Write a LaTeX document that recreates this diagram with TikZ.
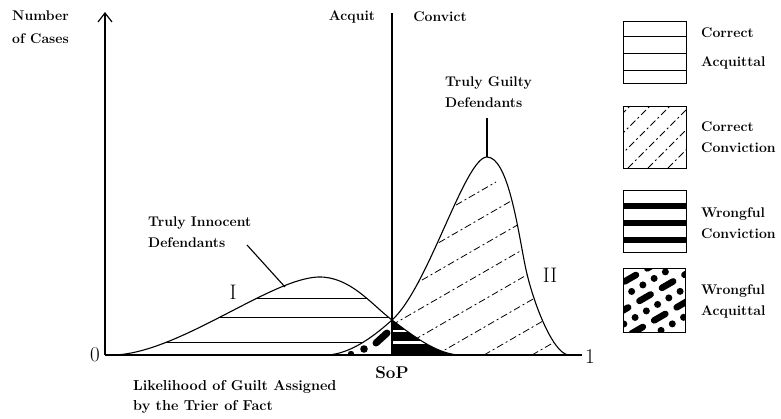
\documentclass[tikz,border=0pt]{standalone}
\usetikzlibrary{arrows.meta}
\def\innocentpath{(115,355) .. controls (180,352) and (270,279) .. (318,277) .. controls (350,276) and (372,305) .. (392,320) .. controls (412,335) and (435,353) .. (458,355)}
\def\guiltypath{(327,355) .. controls (352,354) and (377,333.5) .. (392,320) .. controls (428,288) and (465,157) .. (487,157) .. controls (508,157) and (518,230) .. (525,265) .. controls (532,300) and (552,352) .. (568,355)}
\tikzset{
  curve/.style={line width=1.1pt},
  axis/.style={line width=1.2pt},
  hatch/.style={line width=0.8pt},
  guiltyhatch/.style={line width=0.8pt,dash pattern=on 7pt off 3pt on 2pt off 3pt},
  legbox/.style={draw,line width=1pt,minimum width=63pt,minimum height=62pt,inner sep=0pt},
  lab/.style={font=\fontsize{14}{21}\selectfont\bfseries,align=left,inner sep=0pt},
  numlab/.style={font=\fontsize{21}{21}\selectfont,inner sep=0pt}
}
\begin{document}
\begin{tikzpicture}[x=1pt,y=-1pt]
\useasboundingbox (0,0) rectangle (781,418);
\begin{scope}
\clip (105,0) rectangle (392,355);
\clip \innocentpath -- cycle;
\foreach \y in {298,317,342} \draw[hatch] (105,\y) -- (392,\y);
\end{scope}
\begin{scope}
\clip (105,0) rectangle (392,355);
\clip \guiltypath -- cycle;
\fill[white] (105,0) rectangle (392,355);
\draw[line width=7pt,line cap=round] (376,343) -- (387,333);
\fill (364,349) circle (3.8);
\fill (351,354) circle (3.2);
\end{scope}
\begin{scope}
\clip (392,0) rectangle (600,355);
\clip \guiltypath -- cycle;
\foreach \x in {100,148,...,580} \draw[guiltyhatch] (\x,355) -- ++(300,-173);
\end{scope}
\begin{scope}
\clip (392,0) rectangle (600,355);
\clip \innocentpath -- cycle;
\fill (392,300) rectangle (470,355);
\draw[white,line width=2.5pt] (392,331) -- (470,331) (392,342.5) -- (470,342.5);
\end{scope}
\draw[curve] \innocentpath;
\draw[curve] \guiltypath;
\coordinate (origin) at (105,355);
\coordinate (ytop) at (105,12);
\coordinate (xend) at (582,355);
\coordinate (soptop) at (392,13);
\coordinate (sopfoot) at (392,355);
\draw[axis,-{Straight Barb[length=9pt,width=14pt]}] (origin) -- (ytop);
\draw[axis] (origin) -- (xend);
\draw[axis] (soptop) -- (sopfoot);
\node (numcases) [lab,anchor=west] at (12,27) {Number\\[2pt]of Cases};
\node (acquit) [lab] at (352,17) {Acquit};
\node (convict) [lab] at (440,17) {Convict};
\node (zero) [numlab] at (95,355) {0};
\node (one) [numlab] at (590,357) {1};
\node (numI) [numlab] at (233,292) {I};
\node (numII) [numlab] at (550,275) {II};
\node (sop) [font=\fontsize{17}{17}\selectfont\bfseries,inner sep=0pt] at (392,373) {SoP};
\node (likelihood) [lab,anchor=west,font=\fontsize{14.4}{20}\selectfont\bfseries] at (133,397) {Likelihood of Guilt Assigned\\by the Trier of Fact};
\node (innlabel) [lab,anchor=west] at (148,232) {Truly Innocent\\Defendants};
\node (guiltylabel) [lab,anchor=west] at (445,92) {Truly Guilty\\Defendants};
\coordinate (innfoot) at (247,245);
\coordinate (innpt) at (285,287);
\coordinate (gfoot) at (487,118);
\coordinate (gpeak) at (487,157);
\draw[curve] (innfoot) -- (innpt);
\draw[curve] (gfoot) -- (gpeak);
\begin{scope}
\clip (623,21) rectangle (686,83);
\foreach \y in {36,53,70} \draw[hatch] (600,\y) -- (700,\y);
\end{scope}
\begin{scope}
\clip (623,106) rectangle (686,168);
\foreach \x in {548,568,...,688} \draw[guiltyhatch] (\x,168) -- ++(80,-80);
\end{scope}
\begin{scope}
\clip (623,190) rectangle (686,252);
\foreach \y in {205.5,223,240} \fill (600,\y-3) rectangle (700,\y+3);
\end{scope}
\begin{scope}
\clip (623,268) rectangle (685,332);
\foreach \k/\ph in {0/0,2/9,4/18,6/27}
  \draw[line width=6.5pt,line cap=round,dash pattern=on 13pt off 13pt,dash phase=\ph pt] (610,262+14*\k) -- ++(100,-58);
\foreach \k/\ph in {1/5,3/14,5/23,7/32}
  \draw[line width=7pt,line cap=round,dash pattern=on 0pt off 13pt,dash phase=\ph pt] (610,262+14*\k) -- ++(100,-58);
\end{scope}
\node (boxca) [legbox] at (654.5,52) {};
\node (boxcc) [legbox] at (654.5,137) {};
\node (boxwc) [legbox] at (654.5,221) {};
\node (boxwa) [legbox,minimum width=62pt,minimum height=64pt] at (654,300) {};
\node (labca) [lab,anchor=west,font=\fontsize{14}{29}\selectfont\bfseries] at (701,48) {Correct\\Acquittal};
\node (labcc) [lab,anchor=west] at (701,137) {Correct\\Conviction};
\node (labwc) [lab,anchor=west] at (701,223) {Wrongful\\Conviction};
\node (labwa) [lab,anchor=west] at (701,301) {Wrongful\\Acquittal};
\end{tikzpicture}
\end{document}
